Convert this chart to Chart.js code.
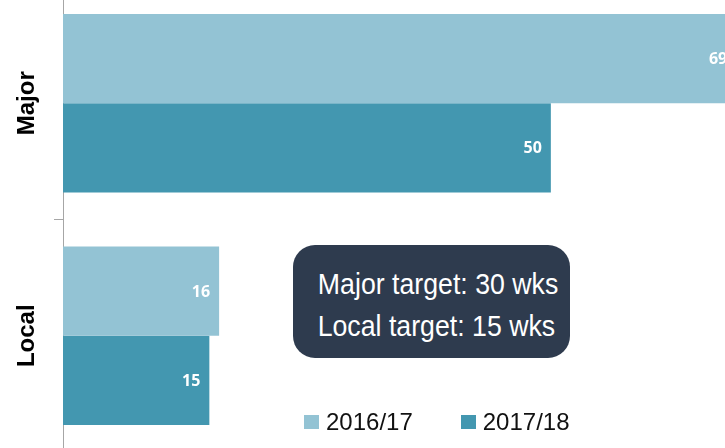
<!DOCTYPE html>
<html><head><meta charset="utf-8">
<script src="https://cdn.jsdelivr.net/npm/chart.js@4.4.0/dist/chart.umd.min.js"></script>
<style>
html,body{margin:0;padding:0;width:725px;height:448px;overflow:hidden;background:#fff;position:relative}
#wrap{position:absolute;left:0;top:-13px;width:746px;height:465px}
#note{position:absolute;left:293px;top:245px;width:277px;height:113px;border-radius:22px;background:#2E3B4E;color:#fff;box-sizing:border-box;padding-top:18px;padding-left:10px;font-family:'Liberation Sans',Arial,sans-serif;font-size:30px;line-height:42px;text-align:center}
#note div{white-space:nowrap}
#note span{display:inline-block;transform:scaleX(0.89)}
#legend{position:absolute;left:304px;top:410px;display:flex;gap:48px;font-family:'Liberation Sans',Arial,sans-serif;font-size:24px;line-height:24px;color:#111}
.item{display:flex;align-items:flex-start}
.sw{width:15px;height:14px;margin-top:5px;margin-right:7px}
</style></head>
<body>
<div id="wrap"><canvas id="c" width="746" height="465"></canvas></div>
<div id="note"></div>
<div id="legend"></div>
<script>
const categories = ['Major', 'Local'];
const seriesLabels = ['2016/17', '2017/18'];
const values1617 = [69, 16];
const values1718 = [50, 15];
const targetLines = ['Major target: 30 wks', 'Local target: 15 wks'];
const seriesColors = ['#93C3D4', '#4397B0'];

const valueLabels = {
  id: 'valueLabels',
  afterDatasetsDraw(chart) {
    const ctx = chart.ctx;
    ctx.save();
    ctx.font = 'bold 16px "Open Sans", sans-serif';
    ctx.fillStyle = '#fff';
    ctx.textAlign = 'right';
    ctx.textBaseline = 'middle';
    chart.data.datasets.forEach((ds, i) => {
      chart.getDatasetMeta(i).data.forEach((bar, j) => {
        ctx.fillText(String(ds.data[j]), bar.x - 9, bar.y + 1);
      });
    });
    ctx.restore();
  }
};

new Chart(document.getElementById('c'), {
  type: 'bar',
  data: {
    labels: categories,
    datasets: [
      { label: seriesLabels[0], data: values1617, backgroundColor: seriesColors[0], categoryPercentage: 0.767, barPercentage: 1 },
      { label: seriesLabels[1], data: values1718, backgroundColor: seriesColors[1], categoryPercentage: 0.767, barPercentage: 1 }
    ]
  },
  options: {
    indexAxis: 'y',
    responsive: false,
    animation: false,
    layout: { padding: 0 },
    plugins: { legend: { display: false }, tooltip: { enabled: false } },
    scales: {
      x: { display: false, min: 0, max: 70 },
      y: {
        afterFit(s) { s.width = 63; s.paddingTop = 0; s.paddingBottom = 0; },
        grid: { display: true, drawOnChartArea: false, drawTicks: true, tickLength: 9, color: '#A6A6A6', offset: true },
        border: { display: true, color: '#A6A6A6', width: 1 },
        ticks: {
          color: '#000',
          font: { family: "'Liberation Sans', Arial, sans-serif", size: 24, weight: 'bold' },
          minRotation: 90, maxRotation: 90, crossAlign: 'center', padding: -5
        }
      }
    }
  },
  plugins: [valueLabels]
});

const note = document.getElementById('note');
targetLines.forEach(t => {
  const d = document.createElement('div');
  const s = document.createElement('span');
  s.textContent = t;
  d.appendChild(s);
  note.appendChild(d);
});

const lg = document.getElementById('legend');
seriesLabels.forEach((t, i) => {
  const it = document.createElement('div');
  it.className = 'item';
  const sw = document.createElement('div');
  sw.className = 'sw';
  sw.style.background = seriesColors[i];
  const tx = document.createElement('span');
  tx.textContent = t;
  it.appendChild(sw);
  it.appendChild(tx);
  lg.appendChild(it);
});
</script>
</body></html>
